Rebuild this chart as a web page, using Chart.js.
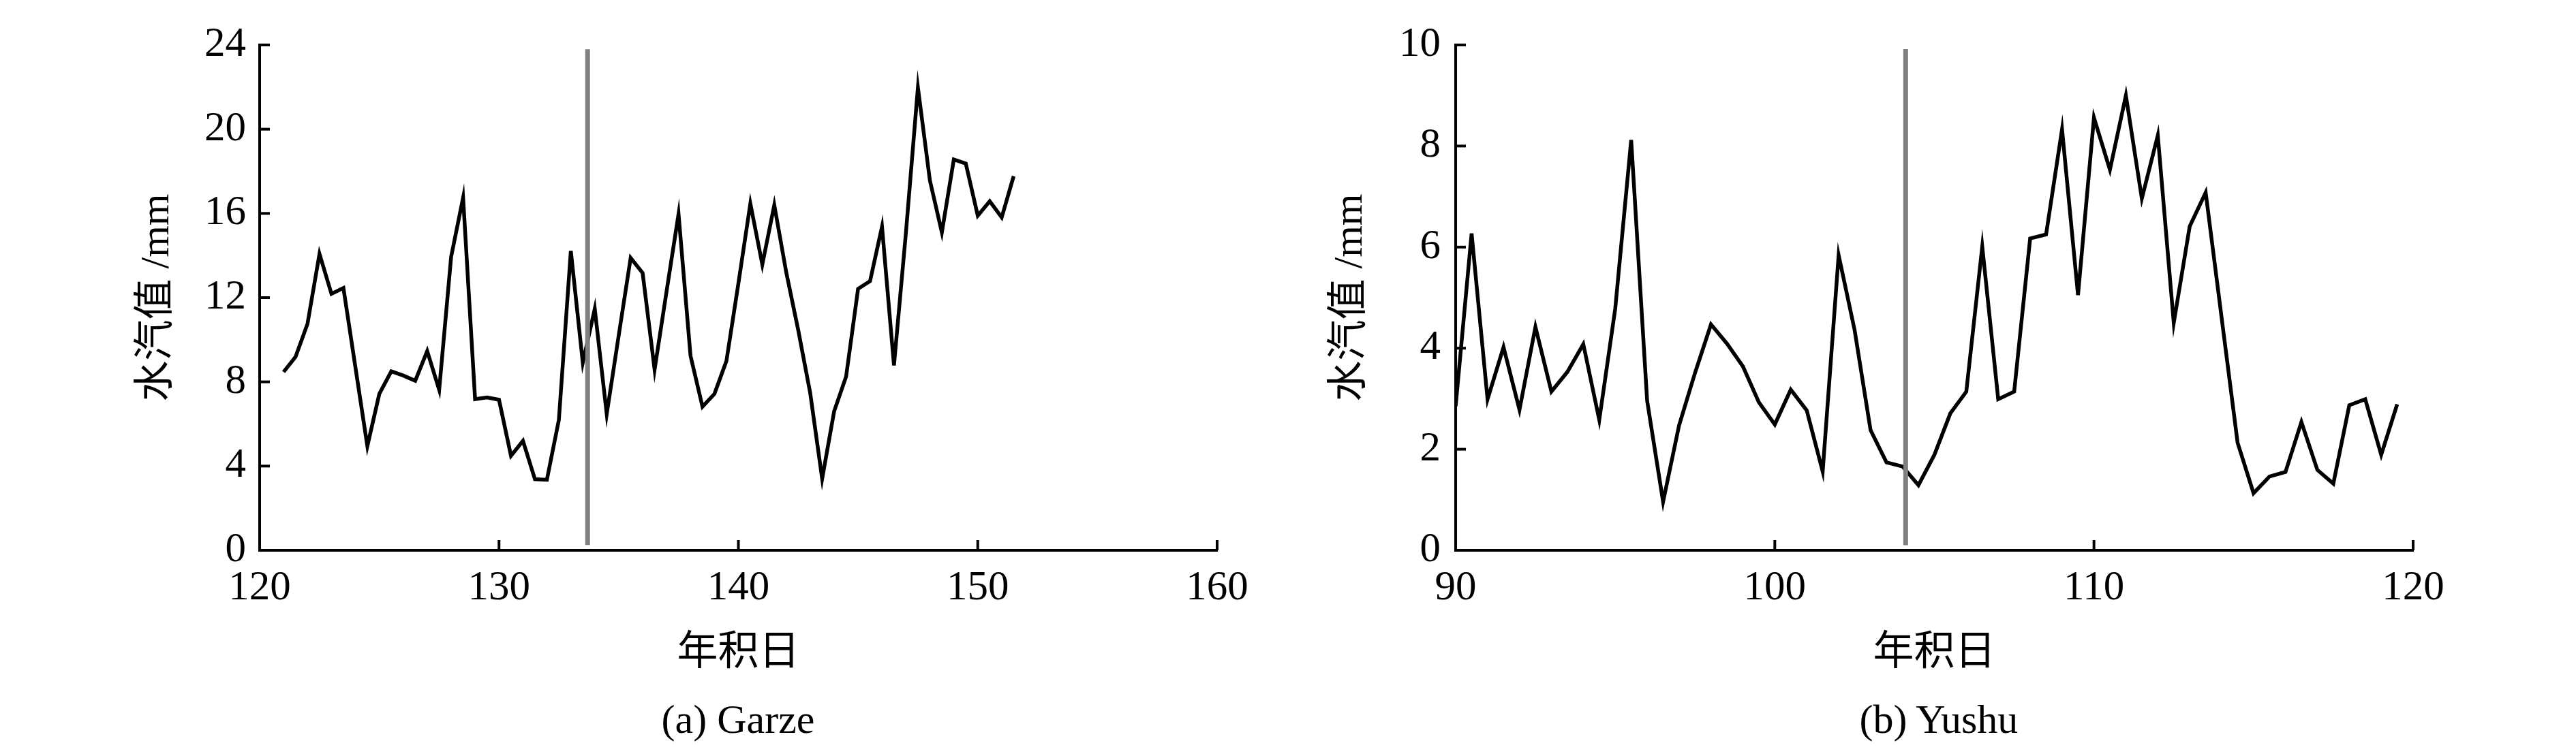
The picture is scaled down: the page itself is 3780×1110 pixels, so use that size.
<!DOCTYPE html>
<html>
<head>
<meta charset="utf-8">
<script src="https://cdn.jsdelivr.net/npm/chart.js@4/dist/chart.umd.min.js"></script>
<style>
  body { margin: 0; background: #fff; }
  #wrap { position: relative; width: 3780px; height: 1110px; background: #fff; }
  canvas { position: absolute; top: 0; }
  .caption { position: absolute; top: 1024px; width: 600px; text-align: center;
             font-family: "Liberation Serif", serif; font-size: 60px; line-height: 64px; color: #000; }
</style>
</head>
<body>
<div id="wrap">
  <canvas id="garze" width="1890" height="1110" style="left:0"></canvas>
  <canvas id="yushu" width="1890" height="1110" style="left:1890px"></canvas>
  <div class="caption" style="left:783px">(a) Garze</div>
  <div class="caption" style="left:2545px">(b) Yushu</div>
</div>
<script>
// Garze station, day of year vs water vapour (mm)
const garzeDays = [121.0, 121.5, 122.0, 122.5, 123.0, 123.5, 124.0, 124.5, 125.0, 125.5,
                   126.0, 126.5, 127.0, 127.5, 128.0, 128.5, 129.0, 129.5, 130.0, 130.5,
                   131.0, 131.5, 132.0, 132.5, 133.0, 133.5, 134.0, 134.5, 135.0, 135.5,
                   136.0, 136.5, 137.0, 137.5, 138.0, 138.5, 139.0, 139.5, 140.0, 140.5,
                   141.0, 141.5, 142.0, 142.5, 143.0, 143.5, 144.0, 144.5, 145.0, 145.5,
                   146.0, 146.5, 147.0, 147.5, 148.0, 148.5, 149.0, 149.5, 150.0, 150.5,
                   151.0, 151.5];
const garzeValues = [8.47, 9.19, 10.76, 14.08, 12.18, 12.46, 8.7, 4.95, 7.43, 8.5,
                     8.3, 8.05, 9.46, 7.62, 13.94, 16.75, 7.18, 7.26, 7.15, 4.49,
                     5.2, 3.38, 3.35, 6.19, 14.22, 8.91, 11.47, 6.47, 10.2, 13.89,
                     13.17, 8.58, 12.3, 15.97, 9.24, 6.82, 7.43, 8.99, 12.67, 16.47,
                     13.57, 16.4, 13.2, 10.46, 7.47, 3.4, 6.6, 8.25, 12.42, 12.78,
                     15.37, 8.78, 15.1, 21.98, 17.57, 15.1, 18.56, 18.37, 15.89, 16.58,
                     15.81, 17.77];
const garzeMarkDays = [133.7, 133.7];
const garzeMarkValues = [0.25, 23.8];
const garzeXTicks = [120, 130, 140, 150, 160];
const garzeYTicks = [0, 4, 8, 12, 16, 20, 24];

// Yushu station
const yushuDays = [90.0, 90.5, 91.0, 91.5, 92.0, 92.5, 93.0, 93.5, 94.0, 94.5,
                   95.0, 95.5, 96.0, 96.5, 97.0, 97.5, 98.0, 98.5, 99.0, 99.5,
                   100.0, 100.5, 101.0, 101.5, 102.0, 102.5, 103.0, 103.5, 104.0, 104.5,
                   105.0, 105.5, 106.0, 106.5, 107.0, 107.5, 108.0, 108.5, 109.0, 109.5,
                   110.0, 110.5, 111.0, 111.5, 112.0, 112.5, 113.0, 113.5, 114.0, 114.5,
                   115.0, 115.5, 116.0, 116.5, 117.0, 117.5, 118.0, 118.5, 119.0, 119.5];
const yushuValues = [2.85, 6.27, 2.99, 4.02, 2.78, 4.42, 3.14, 3.53, 4.08, 2.58,
                     4.78, 8.12, 2.96, 0.96, 2.47, 3.51, 4.47, 4.09, 3.64, 2.93,
                     2.49, 3.18, 2.77, 1.56, 5.84, 4.36, 2.38, 1.74, 1.66, 1.29,
                     1.89, 2.71, 3.14, 6.01, 2.99, 3.14, 6.17, 6.25, 8.33, 5.05,
                     8.56, 7.53, 9.0, 6.96, 8.21, 4.5, 6.41, 7.08, 4.6, 2.13,
                     1.13, 1.46, 1.55, 2.54, 1.59, 1.32, 2.87, 2.99, 1.89, 2.89];
const yushuMarkDays = [104.1, 104.1];
const yushuMarkValues = [0.1, 9.92];
const yushuXTicks = [90, 100, 110, 120];
const yushuYTicks = [0, 2, 4, 6, 8, 10];

const fontFamily = "'Liberation Serif', 'Noto Sans CJK SC', serif";

// Tick marks pointing into the plot, as in the original figure
const inwardTicks = {
    id: 'inwardTicks',
    afterDatasetsDraw(chart) {
        const { ctx, chartArea, scales } = chart;
        const len = 15;
        ctx.save();
        ctx.strokeStyle = '#000';
        ctx.lineWidth = 4;
        scales.x.ticks.forEach(t => {
            const px = scales.x.getPixelForValue(t.value);
            ctx.beginPath();
            ctx.moveTo(px, chartArea.bottom);
            ctx.lineTo(px, chartArea.bottom - len);
            ctx.stroke();
        });
        scales.y.ticks.forEach(t => {
            const py = scales.y.getPixelForValue(t.value);
            ctx.beginPath();
            ctx.moveTo(chartArea.left, py);
            ctx.lineTo(chartArea.left + len, py);
            ctx.stroke();
        });
        ctx.restore();
    }
};

function toPoints(xs, ys) {
    return xs.map((x, i) => ({ x: x, y: ys[i] }));
}

function makePanel(id, days, values, markDays, markValues, xTicks, yTicks, opts) {
    const ctx = document.getElementById(id).getContext('2d');
    return new Chart(ctx, {
        type: 'line',
        data: {
            datasets: [
                {
                    data: toPoints(markDays, markValues),
                    borderColor: '#808080',
                    borderWidth: 7,
                    borderCapStyle: 'butt',
                    pointRadius: 0,
                    order: 0
                },
                {
                    data: toPoints(days, values),
                    borderColor: '#000',
                    borderWidth: 5.5,
                    tension: 0,
                    pointRadius: 0,
                    order: 1
                }
            ]
        },
        options: {
            responsive: false,
            animation: false,
            events: [],
            layout: { padding: { left: 0, top: 66, right: opts.rightPad, bottom: 0 } },
            plugins: { legend: { display: false }, tooltip: { enabled: false } },
            scales: {
                x: {
                    type: 'linear',
                    min: xTicks[0],
                    max: xTicks[xTicks.length - 1],
                    afterBuildTicks: s => { s.ticks = xTicks.map(v => ({ value: v })); },
                    afterFit: s => { s.height = 302; },
                    grid: { display: false },
                    border: { display: true, color: '#000', width: 4 },
                    ticks: {
                        color: '#000',
                        padding: 11,
                        maxRotation: 0,
                        font: { family: fontFamily, size: 61 },
                        callback: v => String(v)
                    },
                    title: {
                        display: true,
                        text: '年积日',
                        color: '#000',
                        font: { family: fontFamily, size: 60 },
                        padding: { top: 0, bottom: 114 }
                    }
                },
                y: {
                    type: 'linear',
                    min: yTicks[0],
                    max: yTicks[yTicks.length - 1],
                    afterBuildTicks: s => { s.ticks = yTicks.map(v => ({ value: v })); },
                    afterFit: s => { s.width = opts.axisWidth; },
                    grid: { display: false },
                    border: { display: true, color: '#000', width: 4 },
                    ticks: {
                        color: '#000',
                        padding: opts.tickPad,
                        font: { family: fontFamily, size: 61 },
                        callback: v => String(v)
                    },
                    title: {
                        display: true,
                        text: '水汽值 /mm',
                        color: '#000',
                        font: { family: fontFamily, size: 60 },
                        padding: { top: opts.titlePad, bottom: 0 }
                    }
                }
            }
        },
        plugins: [inwardTicks]
    });
}

makePanel('garze', garzeDays, garzeValues, garzeMarkDays, garzeMarkValues, garzeXTicks, garzeYTicks,
          { axisWidth: 381, rightPad: 104, tickPad: 12, titlePad: 195 });
makePanel('yushu', yushuDays, yushuValues, yushuMarkDays, yushuMarkValues, yushuXTicks, yushuYTicks,
          { axisWidth: 246, rightPad: 239, tickPad: 14, titlePad: 56 });
</script>
</body>
</html>
